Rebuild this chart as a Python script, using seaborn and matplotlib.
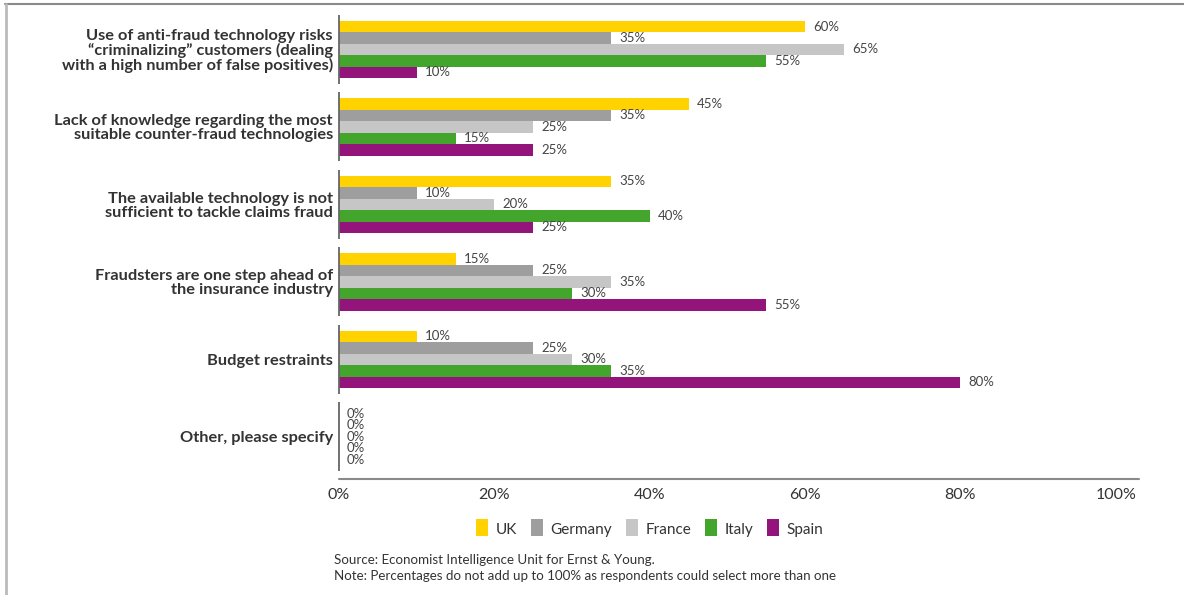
import matplotlib
matplotlib.use("Agg")
import matplotlib.pyplot as plt
from matplotlib.lines import Line2D
from matplotlib.patches import Patch
import seaborn as sns
import pandas as pd

# Survey data
categories = [
    "Use of anti-fraud technology risks\n\u201ccriminalizing\u201d customers (dealing\nwith a high number of false positives)",
    "Lack of knowledge regarding the most\nsuitable counter-fraud technologies",
    "The available technology is not\nsufficient to tackle claims fraud",
    "Fraudsters are one step ahead of\nthe insurance industry",
    "Budget restraints",
    "Other, please specify",
]
countries = ["UK", "Germany", "France", "Italy", "Spain"]
uk = [60, 45, 35, 15, 10, 0]
germany = [35, 35, 10, 25, 25, 0]
france = [65, 25, 20, 35, 30, 0]
italy = [55, 15, 40, 30, 35, 0]
spain = [10, 25, 25, 55, 80, 0]
x_ticks = [0, 20, 40, 60, 80, 100]
source_note = ("Source: Economist Intelligence Unit for Ernst & Young.\n"
               "Note: Percentages do not add up to 100% as respondents could select more than one")

colors = ["#FFD200", "#9E9E9E", "#C6C6C7", "#43A52C", "#93147A"]

series = dict(zip(countries, [uk, germany, france, italy, spain]))
rows = []
for country, vals in series.items():
    for cat, v in zip(categories, vals):
        rows.append({"category": cat, "country": country, "value": v})
df = pd.DataFrame(rows)

sns.set_theme(style="white")
plt.rcParams["font.family"] = ["Lato", "DejaVu Sans"]

fig = plt.figure(figsize=(11.84, 5.95), dpi=100)
ax = fig.add_axes([339 / 1184, 1 - 478.7 / 595, 800 / 1184, (478.7 - 15) / 595])

sns.barplot(data=df, y="category", x="value", hue="country", hue_order=countries,
            palette=colors, order=categories, orient="h", width=0.74,
            saturation=1, ax=ax, legend=False, linewidth=0)

for cont in ax.containers:
    ax.bar_label(cont, fmt="%d%%", padding=5.8, fontsize=9.5, color="#444444")

ax.set_xlim(0, 103)
ax.set_ylim(len(categories) - 1 + 0.54, -0.445)
for s in ax.spines.values():
    s.set_visible(False)

# category separators on the value axis
for i in range(len(categories)):
    ax.plot([0, 0], [i - 0.445, i + 0.445], color="#666666", lw=1.3,
            solid_capstyle="butt", clip_on=False)
ax.plot([0, 103], [len(categories) - 1 + 0.54] * 2, color="#8a8a8a", lw=1.5,
        clip_on=False)

ax.set_xticks(x_ticks)
ax.set_xticklabels([f"{t}%" for t in x_ticks], fontsize=11.5, color="#333333")
ax.tick_params(axis="x", length=0, pad=7)
ax.tick_params(axis="y", length=0, pad=4.5)
for lbl in ax.get_yticklabels():
    lbl.set_fontsize(11.8)
    lbl.set_fontweight("bold")
    lbl.set_color("#333333")
    lbl.set_linespacing(0.98)
ax.set_xlabel("")
ax.set_ylabel("")
ax.grid(False)

handles = [Patch(facecolor=c, edgecolor="none", label=n) for c, n in zip(colors, countries)]
leg = fig.legend(handles=handles, loc="center left", bbox_to_anchor=(476 / 1184, 1 - 529 / 595),
                 ncol=5, frameon=False, fontsize=11, handlelength=0.78, handleheight=1.05,
                 handletextpad=0.5, columnspacing=0.9, borderpad=0, borderaxespad=0)
for t in leg.get_texts():
    t.set_color("#333333")
for p in leg.get_patches():
    p.set_height(12.5)
    p.set_y(p.get_y() - 0.5)

fig.text(334 / 1184, 1 - 554 / 595, source_note, ha="left", va="top", fontsize=9.6,
         color="#333333", linespacing=1.4)

# page frame
fig.add_artist(Line2D([5 / 1184, 1], [1 - 4 / 595] * 2, transform=fig.transFigure,
                      color="#8a8a8a", lw=1.5))
fig.add_artist(Line2D([5.5 / 1184] * 2, [0, 1 - 4 / 595], transform=fig.transFigure,
                      color="#bbbbbb", lw=2))

fig.savefig("out.png", dpi=100)
